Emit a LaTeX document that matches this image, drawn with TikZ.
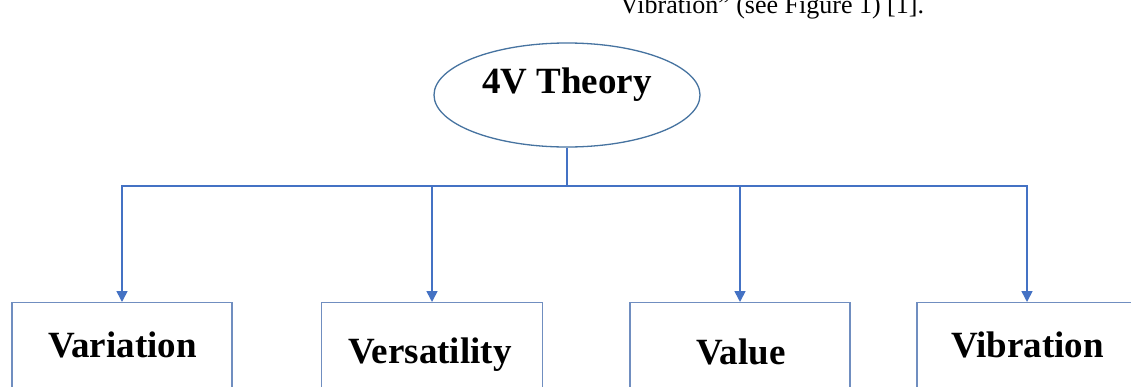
\documentclass[tikz,border=0pt]{standalone}
\usepackage{fontspec}
\setmainfont{Liberation Serif}
\usetikzlibrary{arrows.meta,shapes.geometric}
\definecolor{connblue}{RGB}{68,114,196}
\definecolor{boxblue}{RGB}{112,142,192}
\definecolor{ellblue}{RGB}{70,115,160}
\tikzset{
  conn/.style={draw=connblue, line width=1.6pt},
  arr/.style={conn, -{Triangle[length=11pt,width=11pt]}},
  boxnode/.style={draw=boxblue, line width=1.3pt, rectangle, minimum width=220pt, minimum height=120pt, inner sep=0pt, anchor=north},
  ellnode/.style={draw=ellblue, line width=1.3pt, ellipse, minimum width=266pt, minimum height=104pt, inner sep=0pt},
  lbl/.style={font=\bfseries\fontsize{37}{40}\selectfont, anchor=base, inner sep=0pt, text=black},
  toptext/.style={font=\fontsize{26}{28}\selectfont, anchor=base west, inner sep=0pt, text=black}
}
\begin{document}
\begin{tikzpicture}[x=1pt,y=-1pt]
\useasboundingbox (0,0) rectangle (1131,386);
\clip (0,0) rectangle (1131,386);
\fill[white] (0,0) rectangle (1131,386);
\node[toptext] (cap) at (620,13) {Vibration” (see Figure 1) [1].};
\node[ellnode] (e) at (567,95) {};
\node[lbl] (et) at (567,93) {4V Theory};
\node[boxnode] (b1) at (122,302) {};
\node[boxnode, minimum width=221pt] (b2) at (432,302) {};
\node[boxnode] (b3) at (740,302) {};
\node[boxnode] (b4) at (1027,302) {};
\node[lbl] (t1) at (122.5,357) {Variation};
\node[lbl] (t2) at (430,363) {Versatility};
\node[lbl] (t3) at (741,364) {Value};
\node[lbl] (t4) at (1027.5,357) {Vibration};
\coordinate (j) at (567,186);
\draw[conn] (e.south) -- (j);
\draw[arr] (j) -| (b1.north);
\draw[arr] (j) -| (b2.north);
\draw[arr] (j) -| (b3.north);
\draw[arr] (j) -| (b4.north);
\end{tikzpicture}
\end{document}
